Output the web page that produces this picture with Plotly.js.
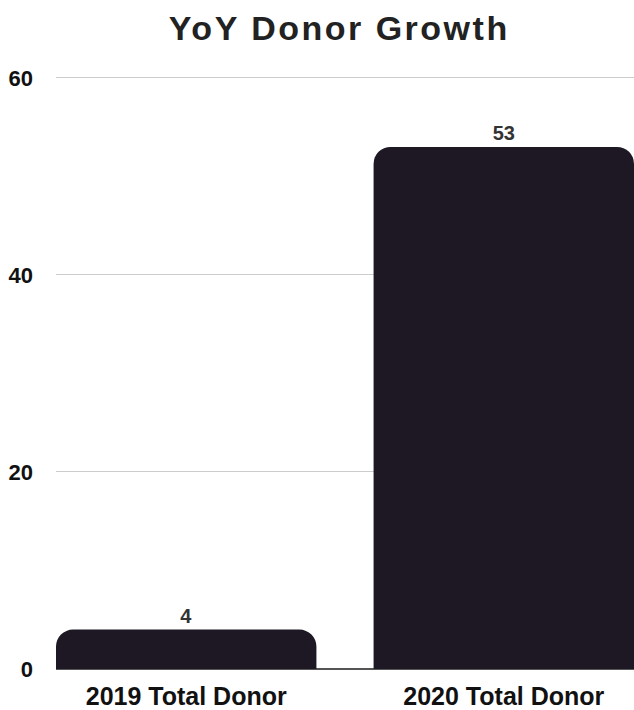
<!DOCTYPE html>
<html>
<head>
<meta charset="utf-8">
<script src="https://cdn.plot.ly/plotly-3.0.1.min.js"></script>
<style>
  html, body { margin: 0; padding: 0; background: #fff; }
  #chart { width: 634px; height: 710px; }
  .gtitle { letter-spacing: 2.5px; }
</style>
</head>
<body>
<div id="chart"></div>
<script>
const categories = ["2019 Total Donor", "2020 Total Donor"];
const donors = [4, 53];
const yTicks = [0, 20, 40, 60];

const trace = {
  type: "bar",
  x: categories,
  y: donors,
  text: donors.map(String),
  textposition: "outside",
  cliponaxis: false,
  textfont: { family: "Liberation Sans, Arial, sans-serif", size: 20, weight: "bold", color: "#333333" },
  marker: { color: "#1d1824", cornerradius: 17, line: { width: 0 } },
  width: 0.82,
  hoverinfo: "none"
};

const layout = {
  width: 634,
  height: 710,
  margin: { l: 56, r: 0, t: 73, b: 41, pad: 0 },
  paper_bgcolor: "#ffffff",
  plot_bgcolor: "#ffffff",
  showlegend: false,
  title: {
    text: "YoY Donor Growth",
    font: { family: "Liberation Sans, Arial, sans-serif", size: 34, weight: "bold", color: "#222222" },
    xref: "container",
    x: 0.535,
    xanchor: "center",
    yref: "container",
    y: 0.961,
    yanchor: "middle"
  },
  xaxis: {
    type: "category",
    range: [-0.41, 1.41],
    showgrid: false,
    zeroline: false,
    showline: false,
    ticks: "outside",
    ticklen: 5,
    tickcolor: "rgba(0,0,0,0)",
    tickfont: { family: "Liberation Sans, Arial, sans-serif", size: 25, weight: "bold", color: "#111111" },
    fixedrange: true
  },
  yaxis: {
    range: [0, 60.5],
    tickvals: yTicks,
    ticktext: yTicks.map(String),
    showgrid: true,
    gridcolor: "#cccccc",
    gridwidth: 1,
    zeroline: true,
    zerolinecolor: "#555555",
    zerolinewidth: 1.5,
    showline: false,
    ticks: "",
    ticklabelstandoff: 22,
    tickfont: { family: "Liberation Sans, Arial, sans-serif", size: 22, weight: "bold", color: "#111111" },
    fixedrange: true
  }
};

Plotly.newPlot("chart", [trace], layout, { displayModeBar: false, staticPlot: true });
</script>
</body>
</html>
